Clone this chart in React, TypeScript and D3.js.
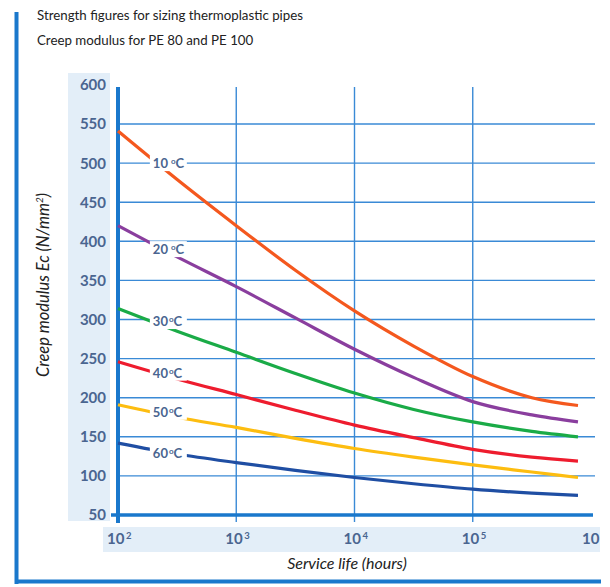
import React from "react";
import * as d3 from "d3";

const logHours = [2, 2.5, 3, 3.5, 4, 4.5, 5, 5.5, 5.89];
const temps = ["10", "20", "30", "40", "50", "60"];
const s10 = [541, 479, 420, 363, 311, 266, 227, 200, 190];
const s20 = [420, 380, 342, 302, 262, 226, 195, 178, 169];
const s30 = [314, 285, 258, 231, 206, 185, 169, 157, 150];
const s40 = [246, 224, 204, 184, 165, 149, 134, 124, 119];
const s50 = [191, 175, 162, 148, 135, 124, 114, 105, 98];
const s60 = [142, 128, 117, 107, 98, 90, 83, 78, 75];
const seriesValues = [s10, s20, s30, s40, s50, s60];
const labelValues = [500, 390, 298, 232, 182, 129];
const labelLog = 2.43;
const yTicks = [50, 100, 150, 200, 250, 300, 350, 400, 450, 500, 550, 600];
const xTickExps = [2, 3, 4, 5, 6];
const colors = ["#f4581e", "#8a3e9e", "#1aab47", "#ee1c2e", "#fdbd10", "#1f4ea3"];

const GRID = "#3a8ad6";
const AXIS = "#1a78cc";
const TICKTXT = "#4a6590";

export default function App() {
  const x = d3.scaleLinear().domain([2, 6]).range([118, 591]);
  const y = d3.scaleLinear().domain([50, 550]).range([515, 124]);
  const line = d3
    .line<[number, number]>()
    .x((d) => x(d[0]))
    .y((d) => y(d[1]))
    .curve(d3.curveMonotoneX);

  return (
    <svg
      width={610}
      height={587}
      style={{ position: "absolute", left: 0, top: 0, background: "#fff" }}
      fontFamily="Lato, 'Open Sans', sans-serif"
    >
      {/* frame */}
      <line x1={16.5} y1={12} x2={16.5} y2={584} stroke={AXIS} strokeWidth={4} />
      <line x1={15} y1={581.5} x2={601} y2={581.5} stroke={AXIS} strokeWidth={4} />

      {/* titles */}
      <text x={37} y={20} fontSize={13.3} fill="#222">
        Strength figures for sizing thermoplastic pipes
      </text>
      <text x={37} y={45} fontSize={13.3} fill="#222">
        Creep modulus for PE 80 and PE 100
      </text>

      {/* label strips */}
      <rect x={68} y={73} width={42} height={448} fill="#e3eef8" />
      <rect x={103} y={527} width={497} height={25} fill="#e3eef8" />

      {/* horizontal gridlines */}
      {yTicks
        .filter((t) => t > 50 && t < 600)
        .map((t) => (
          <line key={"h" + t} x1={x(2)} x2={595} y1={y(t)} y2={y(t)} stroke={GRID} strokeWidth={1.4} />
        ))}
      {/* vertical gridlines */}
      {xTickExps
        .filter((e) => e > 2 && e < 6)
        .map((e) => (
          <line key={"v" + e} x1={x(e)} x2={x(e)} y1={87} y2={522} stroke={GRID} strokeWidth={1.4} />
        ))}

      {/* axes */}
      <line x1={x(2)} x2={x(2)} y1={87} y2={523} stroke={AXIS} strokeWidth={4} />
      <line x1={111} x2={593} y1={y(50)} y2={y(50)} stroke={AXIS} strokeWidth={3.5} />

      {/* y tick labels */}
      {yTicks.map((t) => (
        <text
          key={"yt" + t}
          x={106}
          y={y(t)}
          dy="0.36em"
          textAnchor="end"
          fontSize={15}
          fontWeight={700}
          fill={TICKTXT}
        >
          {t}
        </text>
      ))}

      {/* x tick labels */}
      {xTickExps.map((e) => (
        <text
          key={"xt" + e}
          x={e === 6 ? x(e) - 9 : x(e) - 11}
          y={544}
          fontSize={15}
          fontWeight={700}
          fill={TICKTXT}
        >
          10
          {e < 6 ? (
            <tspan dy={-5} dx={1.5} fontSize={9.5}>
              {e}
            </tspan>
          ) : null}
        </text>
      ))}

      {/* series */}
      {seriesValues.map((vals, i) => (
        <path
          key={"s" + i}
          d={line(logHours.map((l, j) => [l, vals[j]] as [number, number])) || ""}
          fill="none"
          stroke={colors[i]}
          strokeWidth={3.2}
          strokeLinecap="butt"
        />
      ))}

      {/* series labels */}
      {temps.map((t, i) => {
        const cx = x(labelLog);
        const cy = y(labelValues[i]);
        return (
          <g key={"l" + t}>
            <rect x={cx - 19} y={cy - 8} width={37} height={16} fill="#fff" />
            <text x={cx - 16} y={cy + 5} fontSize={13} fontWeight={700} fill={TICKTXT}>
              {t}
              <tspan dx={i < 2 ? 3 : 1} dy={-4} fontSize={8}>
                o
              </tspan>
              <tspan dy={4} fontSize={13}>
                C
              </tspan>
            </text>
          </g>
        );
      })}

      {/* axis titles */}
      <text
        transform={`translate(49, 285) rotate(-90)`}
        textAnchor="middle"
        fontSize={16.5}
        fontStyle="italic"
        fill="#222"
      >
        Creep modulus Ec (N/mm
        <tspan dy={-6} fontSize={10}>
          2
        </tspan>
        <tspan dy={6}>)</tspan>
      </text>
      <text x={347} y={569} textAnchor="middle" fontSize={16} fontStyle="italic" fill="#222">
        Service life (hours)
      </text>
    </svg>
  );
}
